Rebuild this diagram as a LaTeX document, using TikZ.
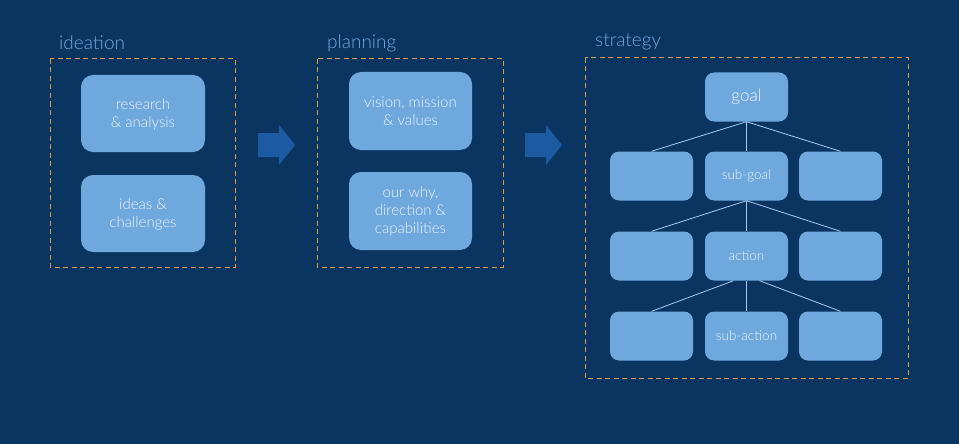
\documentclass[tikz,border=0pt]{standalone}
\usepackage{fontspec}
\setmainfont{Lato}[UprightFont=* Light]
\definecolor{bgnavy}{HTML}{0B3561}
\definecolor{boxblue}{HTML}{6FA8DC}
\definecolor{boxtext}{HTML}{EDF4FC}
\definecolor{titleblue}{HTML}{6FA8DC}
\definecolor{frameorange}{HTML}{D9A13E}
\definecolor{arrowblue}{HTML}{1C5BA2}
\definecolor{linkline}{HTML}{A9CBEE}
\begin{document}
\begin{tikzpicture}[x=1pt,y=-1pt,
  frame/.style={draw=frameorange, line width=1pt, dash pattern=on 5pt off 3.5pt},
  stagetitle/.style={anchor=west, text=titleblue, font=\fontsize{19}{20}\selectfont, inner sep=0pt},
  bigbox/.style={fill=boxblue, rounded corners=12pt},
  boxlabel/.style={text=boxtext, align=center, font=\fontsize{15}{18}\selectfont},
  link/.style={draw=linkline, line width=0.8pt},
  stagearrow/.style={fill=arrowblue}]
% background
\fill[bgnavy] (0,0) rectangle (959,444);
\useasboundingbox (0,0) rectangle (959,444);

% ---------- ideation ----------
\node[stagetitle] (tIdea) at (59,43) {ideation};
\draw[frame] (50,59) rectangle (235,267);
\fill[bigbox] (81,75) rectangle (205,152);
\node[boxlabel] (research) at (143,114) {research\\\& analysis};
\fill[bigbox] (81,175) rectangle (205,252);
\node[boxlabel] (ideas) at (143,214) {ideas \&\\challenges};

% arrow ideation -> planning
\fill[stagearrow] (258,133) -- (279,133) -- (279,125) -- (295,145) -- (279,165) -- (279,157) -- (258,157) -- cycle;

% ---------- planning ----------
\node[stagetitle] (tPlan) at (327,43) {planning};
\draw[frame] (317,59) rectangle (503,267);
\fill[bigbox] (349,72) rectangle (472,150);
\node[boxlabel] (vision) at (410.5,111) {vision, mission\\\& values};
\fill[bigbox] (349,172) rectangle (472,250);
\node[boxlabel] (why) at (410.5,211) {our why,\\direction \&\\capabilities};

% arrow planning -> strategy
\fill[stagearrow] (525,133) -- (546,133) -- (546,125) -- (562,145) -- (546,165) -- (546,157) -- (525,157) -- cycle;

% ---------- strategy ----------
\node[stagetitle] (tStrat) at (595,42) {strategy};
\draw[frame] (585,58) rectangle (908,378);

% tree nodes: width 83, height 49
\tikzset{tree/.style={fill=boxblue, rounded corners=9pt, minimum width=83pt, minimum height=49pt,
  inner sep=0pt, text=boxtext, font=\fontsize{13.5}{14}\selectfont}}
\node[tree, font=\fontsize{17}{18}\selectfont] (goal) at (746.5,97) {goal};
\node[tree] (g2l) at (651.5,176) {};
\node[tree] (g2m) at (746.5,176) {sub-goal};
\node[tree] (g2r) at (840.5,176) {};
\node[tree] (g3l) at (651.5,256) {};
\node[tree] (g3m) at (746.5,256) {action};
\node[tree] (g3r) at (840.5,256) {};
\node[tree] (g4l) at (651.5,336) {};
\node[tree] (g4m) at (746.5,336) {sub-action};
\node[tree] (g4r) at (840.5,336) {};

% connectors
\draw[link] (goal.south) -- (g2l.north);
\draw[link] (goal.south) -- (g2m.north);
\draw[link] (goal.south) -- (g2r.north);
\draw[link] (g2m.south) -- (g3l.north);
\draw[link] (g2m.south) -- (g3m.north);
\draw[link] (g2m.south) -- (g3r.north);
\draw[link] ([xshift=-13pt]g3m.south) -- (g4l.north);
\draw[link] (g3m.south) -- (g4m.north);
\draw[link] ([xshift=13pt]g3m.south) -- (g4r.north);
\end{tikzpicture}
\end{document}
